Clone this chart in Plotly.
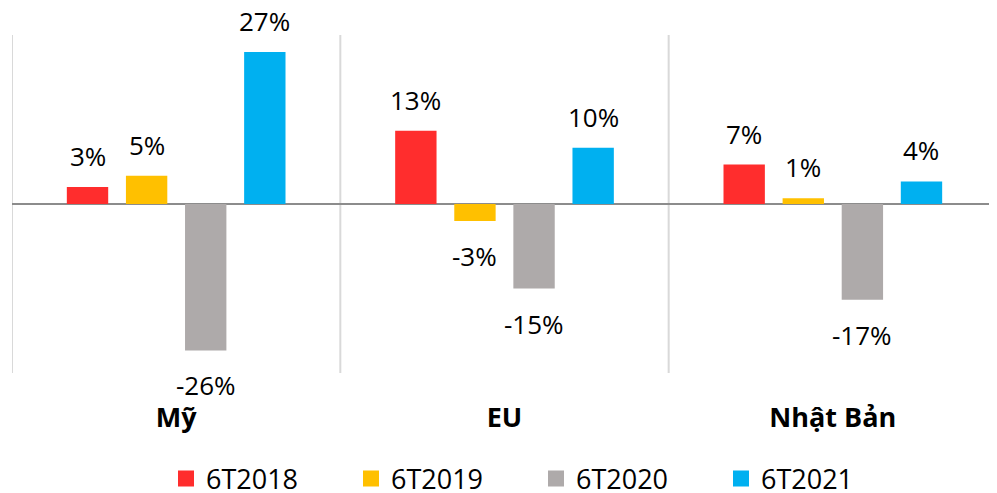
import plotly.graph_objects as go

categories = ["Mỹ", "EU", "Nhật Bản"]
series_names = ["6T2018", "6T2019", "6T2020", "6T2021"]
values_2018 = [3, 13, 7]
values_2019 = [5, -3, 1]
values_2020 = [-26, -15, -17]
values_2021 = [27, 10, 4]
colors = ["#FF2D2D", "#FFC000", "#AEAAAA", "#00B0F0"]

FONT = "Open Sans"
BARGAP = 0.28
all_values = [values_2018, values_2019, values_2020, values_2021]
n = len(series_names)
slot = (1 - BARGAP) / n

W, H = 989, 485  # page body adds an 8px margin

fig = go.Figure()
for name, vals, col in zip(series_names, all_values, colors):
    fig.add_trace(go.Bar(x=categories, y=vals, name=name, marker_color=col,
                         marker_line_width=0, showlegend=False))
# legend entries with larger square symbols
for name, col in zip(series_names, colors):
    fig.add_trace(go.Scatter(x=[None], y=[None], mode="markers", name=name,
                             marker=dict(symbol="square", size=18, color=col)))

annotations = []
for si, vals in enumerate(all_values):
    off = (si - (n - 1) / 2) * slot
    for ci, v in enumerate(vals):
        annotations.append(dict(
            x=ci + off, y=v, xref="x", yref="y", text=f"{v}%", showarrow=False,
            yanchor="bottom" if v >= 0 else "top",
            yshift=11 if v >= 0 else -15,
            font=dict(family=FONT, size=26, color="#000000")))

shapes = []
for xv in [-0.5, 0.5, 1.5]:
    shapes.append(dict(type="line", xref="x", yref="paper", x0=xv, x1=xv, y0=0, y1=1,
                       line=dict(color="#D9D9D9", width=2), layer="below"))

fig.update_layout(
    width=W, height=H,
    margin=dict(l=4, r=0, t=27, b=120, autoexpand=False),
    paper_bgcolor="white", plot_bgcolor="white",
    barmode="group", bargap=BARGAP, bargroupgap=0.3,
    showlegend=True,
    legend=dict(orientation="h", xref="container", yref="container",
                x=158 / W, xanchor="left", y=14 / H, yanchor="middle",
                font=dict(family=FONT, size=27, color="#000000"), entrywidth=140,
                traceorder="normal", itemsizing="trace"),
    xaxis=dict(range=[-0.5, 2.5], showgrid=False, showline=False, ticks="",
               tickfont=dict(family=FONT, size=27, color="#000000", weight="bold"),
               ticklabelstandoff=26, automargin=False),
    yaxis=dict(range=[-30, 30], showgrid=False, showticklabels=False, zeroline=True,
               zerolinecolor="#8C8C8C", zerolinewidth=2, showline=False, automargin=False),
    annotations=annotations,
    shapes=shapes,
)

fig.write_html("out.html")
